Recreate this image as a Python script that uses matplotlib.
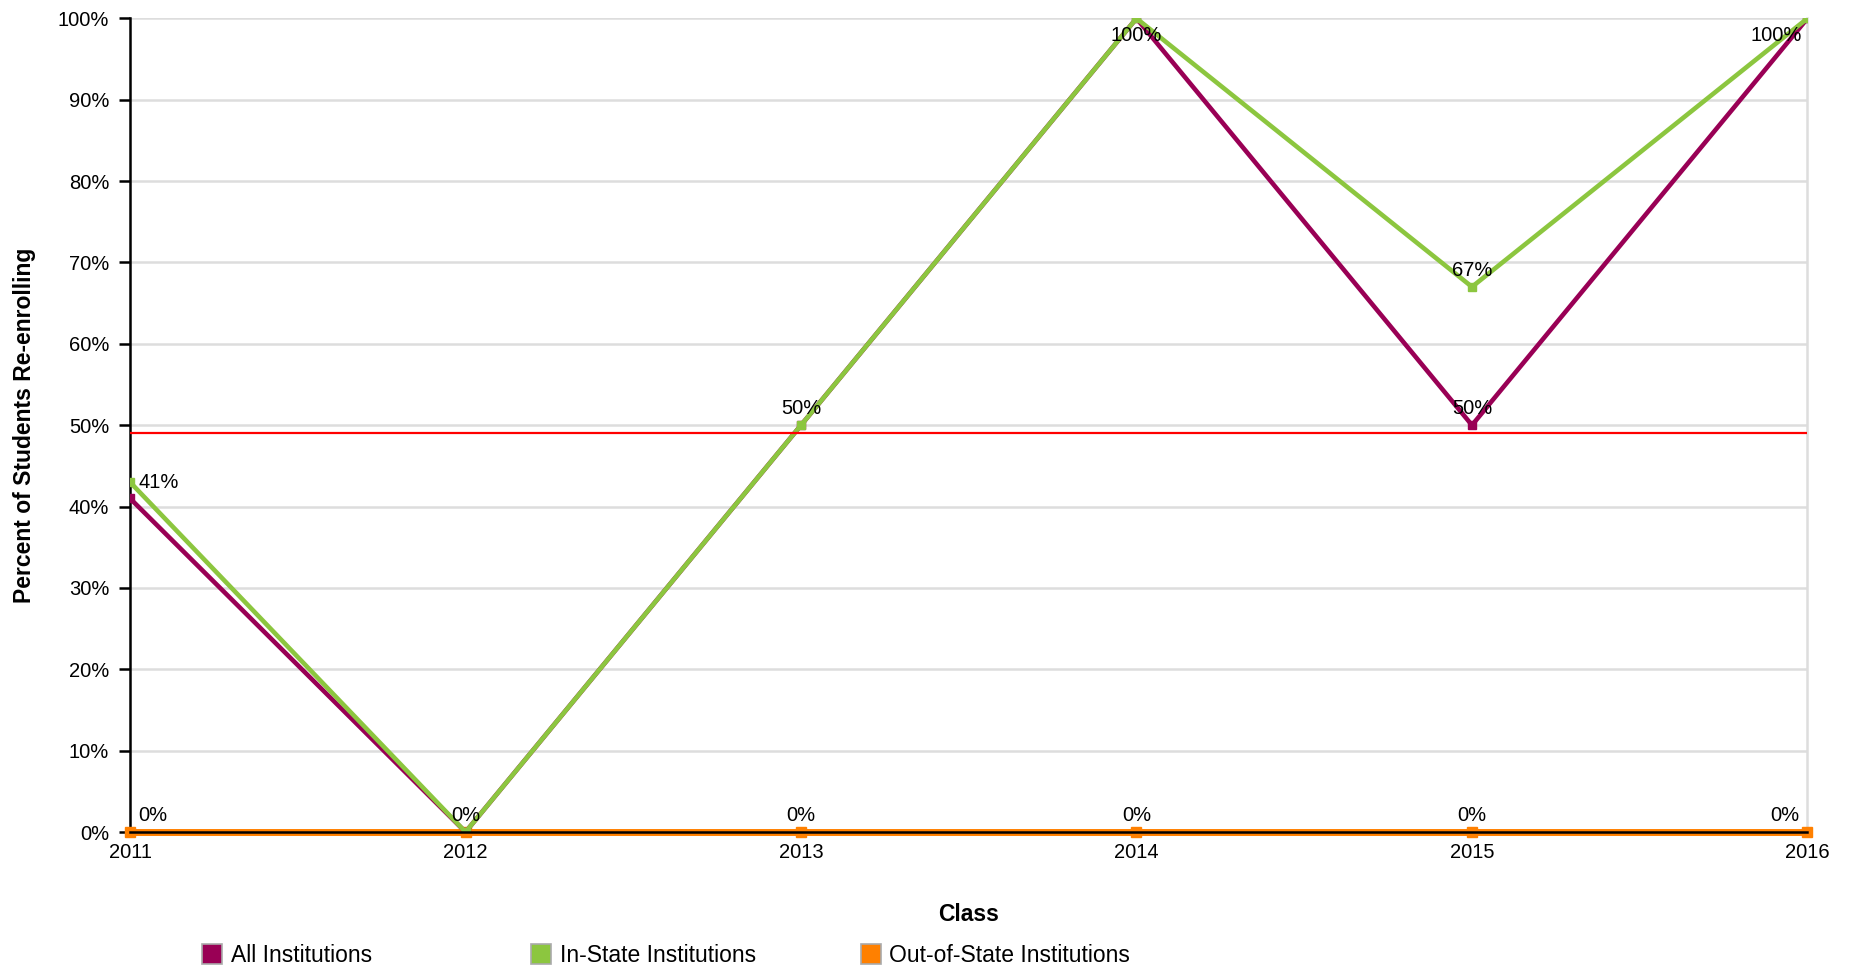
import matplotlib.pyplot as plt
from matplotlib.lines import Line2D
from matplotlib.ticker import FuncFormatter, MultipleLocator

plt.rcParams['font.family'] = ['Liberation Sans', 'DejaVu Sans']

years = [2011, 2012, 2013, 2014, 2015, 2016]
all_inst = [41, 0, 50, 100, 50, 100]
in_state = [43, 0, 50, 100, 67, 100]
out_state = [0, 0, 0, 0, 0, 0]
average = 49

series_names = ["All Institutions", "In-State Institutions", "Out-of-State Institutions"]
colors = ["#990055", "#8CC63F", "#FF8000"]

# visible data labels: (year index, value, text, x offset pt, y offset pt, ha)
labels = [
    (0, 43, "41%", 6, 0, "left"),
    (2, 50, "50%", 0, 12, "center"),
    (3, 100, "100%", 0, -12, "center"),
    (4, 67, "67%", 0, 12, "center"),
    (4, 50, "50%", 0, 12, "center"),
    (5, 100, "100%", -4, -12, "right"),
]

fig = plt.figure(figsize=(18.5, 9.67), dpi=100)
ax = fig.add_axes([0.0703, 0.1396, 0.9067, 0.8414])

ax.plot(years, all_inst, color=colors[0], lw=3.3, marker='s', ms=6, zorder=4)
ax.plot(years, in_state, color=colors[1], lw=3.3, marker='s', ms=6, zorder=5)
ax.plot(years, out_state, color=colors[2], lw=5, marker='s', ms=7, zorder=3, clip_on=False)
ax.axhline(average, color='#FF0000', lw=1.6, zorder=6)

for i, v, txt, dx, dy, ha in labels:
    ax.annotate(txt, (years[i], v), xytext=(dx, dy), textcoords='offset points',
                ha=ha, va='center', fontsize=14.5, zorder=8)

# zero labels for out-of-state series
for i, y in enumerate(years):
    ha = 'left' if i == 0 else ('right' if i == len(years) - 1 else 'center')
    dx = 6 if i == 0 else (-6 if i == len(years) - 1 else 0)
    ax.annotate(f"{out_state[i]}%", (y, out_state[i]), xytext=(dx, 12),
                textcoords='offset points', ha=ha, va='center', fontsize=14.5, zorder=8)

ax.set_xlim(2011, 2016)
ax.set_ylim(0, 100)
ax.set_xticks(years)
ax.yaxis.set_major_locator(MultipleLocator(10))
ax.yaxis.set_major_formatter(FuncFormatter(lambda v, p: f"{v:.0f}%"))
ax.grid(axis='y', color='#dddddd', lw=1.8)
ax.set_axisbelow(True)

ax.spines['top'].set_visible(False)
ax.spines['right'].set_color('#dddddd')
ax.spines['right'].set_linewidth(1.8)
ax.spines['left'].set_linewidth(1.8)
ax.spines['bottom'].set_linewidth(1.8)
ax.spines['bottom'].set_zorder(7)

ax.tick_params(axis='y', length=8, width=1.8, pad=7, labelsize=14.5)
ax.tick_params(axis='x', length=0, pad=8, labelsize=14.5)

ax.set_xlabel("Class", fontsize=16.5, fontweight='bold')
ax.set_ylabel("Percent of Students Re-enrolling", fontsize=16.5, fontweight='bold')
ax.xaxis.set_label_coords(0.5, -0.087)
ax.yaxis.set_label_coords(-0.056, 0.5)

legend_x = [0.1085, 0.2865, 0.4645]
for name, c, lx in zip(series_names, colors, legend_x):
    h = Line2D([], [], ls='none', marker='s', ms=14, mfc=c, mec='#aaaaaa', mew=1.2)
    fig.legend([h], [name], loc='center left', bbox_to_anchor=(lx, 0.012),
               frameon=False, fontsize=16.5, handletextpad=0.3, handlelength=1.0,
               borderpad=0, borderaxespad=0)

fig.savefig("out.png", dpi=100)
